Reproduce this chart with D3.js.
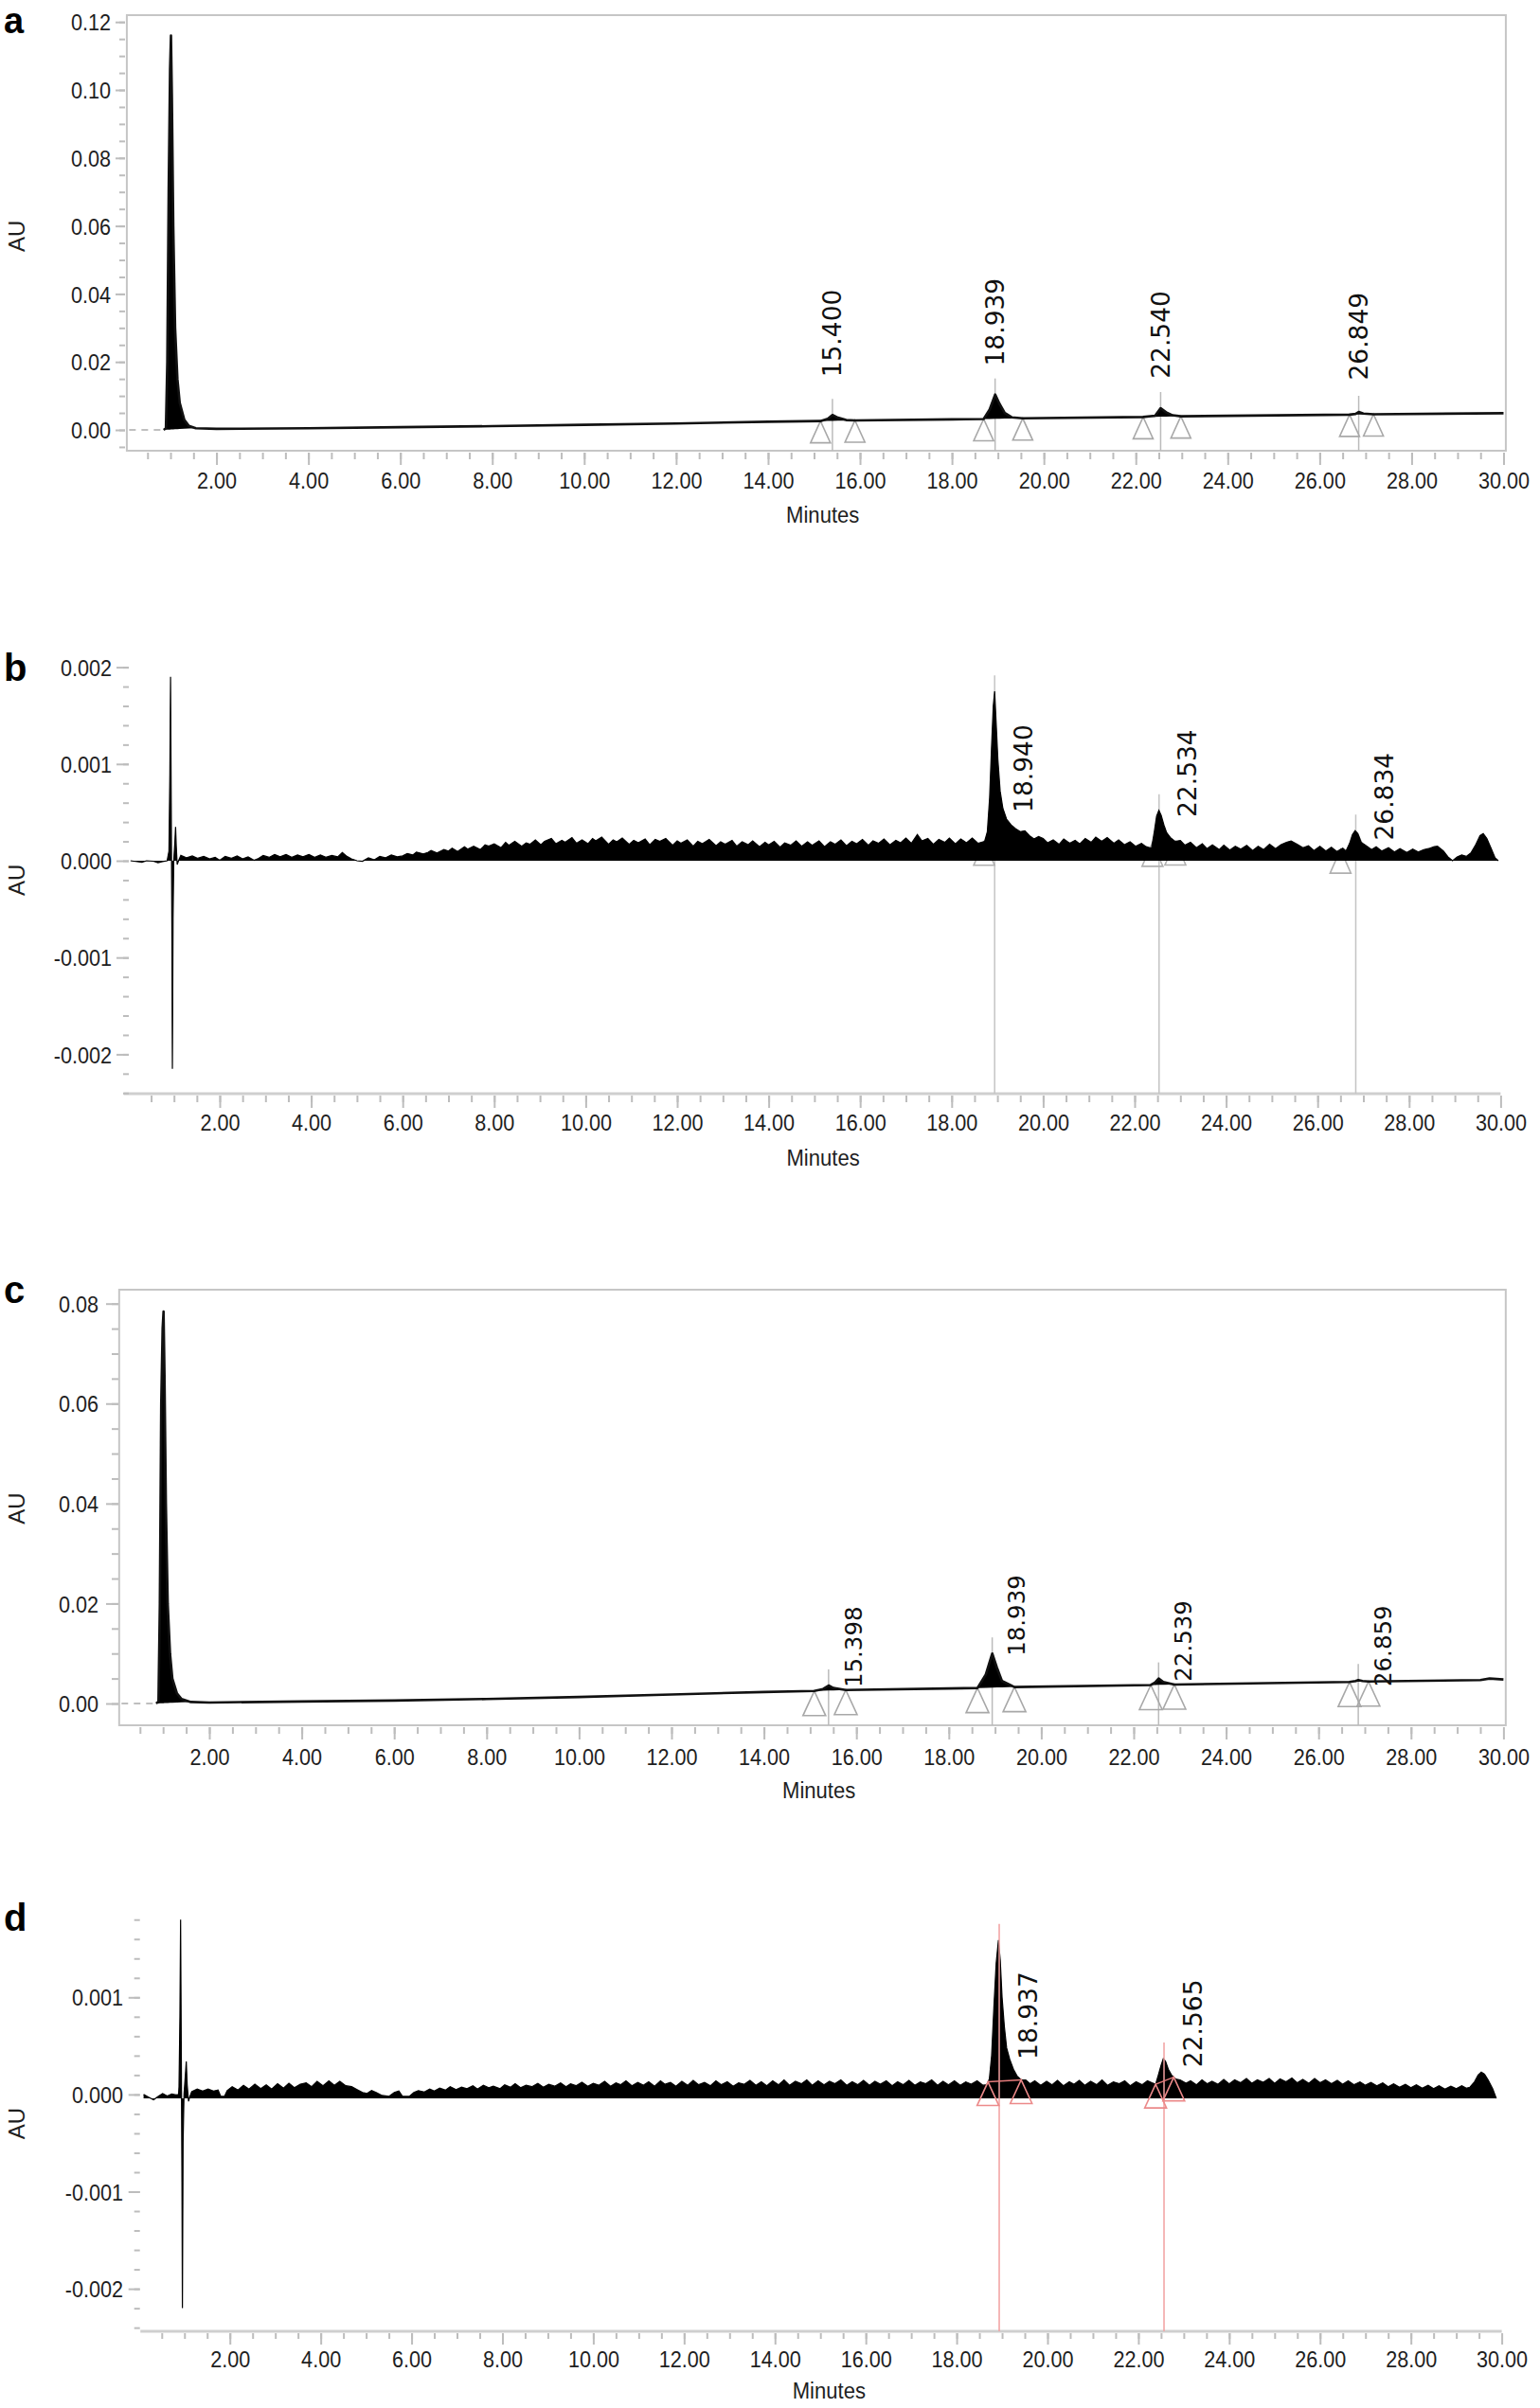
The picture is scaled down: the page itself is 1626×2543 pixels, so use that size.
<!DOCTYPE html>
<html><head><meta charset="utf-8">
<script src="https://cdn.jsdelivr.net/npm/d3@7"></script>
<style>body{margin:0;background:#fff}svg{display:block}</style>
</head><body>
<svg id="chart" width="1626" height="2543"></svg>
<script>
// ---------------- DATA ----------------
const xMajorTicks = [2,4,6,8,10,12,14,16,18,20,22,24,26,28,30];
const aYTicks = [0,0.02,0.04,0.06,0.08,0.10,0.12];
const bYTicks = [-0.002,-0.001,0,0.001,0.002];
const cYTicks = [0,0.02,0.04,0.06,0.08];
const dYTicks = [-0.002,-0.001,0,0.001];

// panel a trace [minutes, AU]
const aTrace = [[0.10,0],[0.85,0],[0.90,0.0005],[0.93,0.02],[0.96,0.07],[0.99,0.106],[1.01,0.116],[1.03,0.098],[1.06,0.06],[1.10,0.03],[1.15,0.015],[1.20,0.008],[1.30,0.003],[1.40,0.0012],[1.55,0.0005],[2.0,0.0003],[4.0,0.0005],[6.0,0.0008],[8.0,0.0011],[10.0,0.0015],[12.0,0.0019],[14.0,0.0024],[15.14,0.0026],[15.30,0.0033],[15.40,0.0044],[15.52,0.0036],[15.70,0.0029],[15.89,0.0028],[18.0,0.0031],[18.69,0.0032],[18.82,0.0060],[18.94,0.0104],[19.03,0.0078],[19.15,0.0050],[19.30,0.0037],[19.54,0.0034],[22.16,0.0038],[22.42,0.0042],[22.54,0.0064],[22.66,0.0052],[22.80,0.0043],[22.98,0.0040],[26.65,0.0045],[26.78,0.0047],[26.85,0.0053],[26.95,0.0048],[27.17,0.0046],[30.0,0.0049]];
const aPeakRT = [15.400,18.939,22.540,26.849];
const aPeakText = ["15.400","18.939","22.540","26.849"];
const aLabelLevel = [0.0155,0.0188,0.0151,0.0146];
const aFillWindows = [[0.85,1.55],[15.14,15.89],[18.69,19.54],[22.16,22.98],[26.65,27.17]];
const aMarkTimes = [15.14,15.89,18.69,19.54,22.16,22.98,26.65,27.17];

// panel b trace [minutes, micro-AU]
const bTrace = [[0.05,0],[0.20,-10],[0.30,-15],[0.40,0],[0.55,-5],[0.65,-20],[0.75,-8],[0.85,0],[0.89,100],[0.91,900],[0.925,1900],[0.94,600],[0.955,-800],[0.965,-2150],[0.98,-600],[0.995,0],[1.02,200],[1.035,350],[1.05,150],[1.07,-40],[1.10,0],
[1.15,55],[1.28,30],[1.40,50],[1.52,25],[1.65,45],[1.78,20],[1.90,35],[2.00,5],[2.12,45],[2.25,25],[2.38,50],[2.50,20],[2.62,40],[2.75,5],[2.85,25],[2.95,55],[3.08,35],[3.20,65],[3.32,40],[3.45,65],[3.58,35],[3.70,60],[3.82,40],[3.95,65],[4.08,35],[4.20,60],[4.32,35],[4.45,55],[4.58,40],[4.68,85],[4.78,45],[4.88,20],[5.00,0],[5.12,-5],[5.25,30],[5.38,10],[5.50,45],[5.62,30],[5.75,60],[5.88,40],
[6.00,50],[6.10,75],[6.22,60],[6.30,90],[6.45,70],[6.55,85],[6.62,105],[6.75,80],[6.90,115],[7.00,100],[7.08,130],[7.20,95],[7.35,145],[7.42,120],[7.55,150],[7.70,115],[7.80,165],[7.88,150],[8.00,175],[8.15,135],[8.25,190],[8.32,160],[8.45,200],[8.60,150],[8.70,185],[8.78,170],[8.90,215],[9.02,165],[9.10,200],[9.25,230],[9.35,175],[9.48,210],[9.55,190],[9.70,240],[9.80,180],[9.92,215],
[10.05,175],[10.15,230],[10.22,205],[10.35,245],[10.50,170],[10.60,215],[10.68,195],[10.80,235],[10.95,170],[11.05,210],[11.15,185],[11.30,225],[11.40,165],[11.52,220],[11.62,200],[11.75,230],[11.90,160],[12.00,205],[12.08,180],[12.22,215],[12.35,150],[12.45,200],[12.55,175],[12.70,220],[12.85,155],[12.95,195],[13.05,170],[13.20,210],[13.30,150],[13.42,195],[13.55,165],[13.65,205],[13.80,145],[13.92,190],
[14.00,165],[14.12,200],[14.25,140],[14.35,185],[14.48,160],[14.60,205],[14.72,150],[14.85,195],[14.95,160],[15.10,205],[15.22,145],[15.35,195],[15.45,170],[15.58,215],[15.70,155],[15.82,200],[15.92,175],[16.05,220],[16.18,160],[16.28,205],[16.40,180],[16.52,225],[16.65,165],[16.78,210],[16.88,185],[17.00,235],[17.12,180],[17.25,270],[17.35,205],[17.48,230],[17.60,170],[17.72,220],[17.85,190],[17.95,235],
[18.08,175],[18.20,225],[18.32,185],[18.45,235],[18.58,180],[18.72,200],[18.78,300],[18.83,650],[18.87,1150],[18.91,1600],[18.94,1750],[18.97,1450],[19.01,1050],[19.06,720],[19.12,540],[19.20,430],[19.30,370],[19.40,330],[19.50,300],[19.60,310],[19.70,260],[19.80,225],[19.90,250],
[20.00,230],[20.10,185],[20.22,215],[20.35,170],[20.45,225],[20.58,180],[20.70,210],[20.80,175],[20.92,230],[21.05,190],[21.15,245],[21.28,200],[21.40,240],[21.55,180],[21.65,215],[21.78,165],[21.90,195],[22.02,150],[22.15,180],[22.25,145],[22.37,130],[22.43,300],[22.48,460],[22.53,520],[22.58,470],[22.64,370],[22.70,290],[22.78,240],[22.88,200],
[23.00,210],[23.10,160],[23.22,190],[23.35,135],[23.48,175],[23.58,125],[23.70,165],[23.85,115],[23.95,160],[24.08,110],[24.20,150],[24.32,120],[24.45,160],[24.58,105],[24.70,150],[24.82,115],[24.95,170],[25.08,125],[25.20,165],[25.32,190],[25.42,205],[25.55,170],[25.68,135],[25.80,155],[25.92,105],[26.05,150],[26.18,100],[26.30,140],[26.42,95],[26.55,130],[26.62,100],
[26.70,180],[26.76,270],[26.82,310],[26.88,280],[26.95,190],[27.05,160],[27.18,115],[27.28,145],[27.40,100],[27.55,135],[27.68,90],[27.80,125],[27.95,85],[28.08,120],[28.20,90],[28.32,115],[28.45,130],[28.55,145],[28.62,150],[28.75,100],[28.85,40],[28.95,0],[29.05,40],[29.15,60],[29.25,45],[29.35,80],[29.45,160],[29.55,260],[29.62,280],[29.70,230],[29.80,120],[29.88,30],[29.95,0]];
const bPeakRT = [18.940,22.534,26.834];
const bPeakText = ["18.940","22.534","26.834"];
const bLabelLevel = [0.00050,0.00045,0.00021];
const bMarkTimes = [18.71,22.39,22.89,26.50,26.90];

// panel c trace [minutes, AU]
const cTrace = [[0.10,0],[0.85,0],[0.90,0.0004],[0.93,0.02],[0.96,0.06],[0.99,0.075],[1.01,0.0784],[1.03,0.066],[1.06,0.04],[1.10,0.02],[1.15,0.01],[1.20,0.005],[1.30,0.002],[1.40,0.0009],[1.60,0.0003],[2.0,0.0002],[4.0,0.0004],[6.0,0.0006],[8.0,0.0009],[10.0,0.0013],[12.0,0.0018],[14.0,0.0023],[15.09,0.0025],[15.28,0.0029],[15.40,0.0036],[15.50,0.0031],[15.77,0.0027],[18.0,0.0030],[18.62,0.0031],[18.80,0.0058],[18.94,0.0100],[19.04,0.0072],[19.15,0.0045],[19.42,0.0033],[22.37,0.0037],[22.46,0.0042],[22.54,0.0050],[22.64,0.0043],[22.88,0.0038],[26.67,0.0043],[26.80,0.0045],[26.86,0.0047],[26.95,0.0045],[27.08,0.0044],[29.5,0.0047],[29.7,0.0050],[29.85,0.0049],[30.0,0.0048]];
const cPeakRT = [15.398,18.939,22.539,26.859];
const cPeakText = ["15.398","18.939","22.539","26.859"];
const cLabelLevel = [0.0032,0.0095,0.0044,0.0034];
const cFillWindows = [[0.85,1.60],[15.09,15.77],[18.62,19.42],[22.37,22.88],[26.67,27.08]];
const cMarkTimes = [15.09,15.77,18.62,19.42,22.37,22.88,26.67,27.08];

// panel d trace [minutes, micro-AU]
const dTrace = [[0.10,0],[0.22,-30],[0.32,-55],[0.42,-20],[0.52,10],[0.62,-15],[0.72,5],[0.82,-5],[0.87,0],[0.88,80],[0.90,800],[0.915,1800],[0.93,500],[0.945,-900],[0.955,-2200],[0.97,-500],[0.99,0],[1.02,200],[1.04,340],[1.06,100],[1.09,-70],[1.12,-20],
[1.16,30],[1.28,55],[1.40,35],[1.52,55],[1.64,35],[1.74,45],[1.80,-20],[1.88,-20],[1.94,40],[2.05,80],[2.18,45],[2.30,95],[2.42,55],[2.55,105],[2.68,60],[2.80,100],[2.92,55],[3.05,110],[3.18,65],[3.30,115],[3.42,70],[3.55,105],[3.68,120],[3.80,80],[3.92,135],[4.05,90],[4.18,140],[4.30,95],[4.42,135],[4.55,90],[4.68,80],[4.80,50],[4.92,20],[5.02,10],[5.12,40],[5.22,20],[5.35,-10],[5.50,-20],[5.62,20],[5.72,35],[5.80,-20],[5.95,-20],
[6.05,20],[6.15,40],[6.28,25],[6.40,55],[6.50,35],[6.62,65],[6.75,45],[6.85,80],[6.98,50],[7.10,75],[7.22,60],[7.35,90],[7.45,55],[7.58,95],[7.70,70],[7.80,85],[7.95,60],[8.05,100],[8.18,75],[8.28,110],[8.40,70],[8.52,95],[8.65,80],[8.78,115],[8.90,75],[9.02,105],[9.15,85],[9.28,120],[9.40,80],[9.50,110],[9.62,90],[9.75,125],[9.88,85],
[10.00,115],[10.12,95],[10.25,135],[10.38,85],[10.50,120],[10.60,100],[10.72,140],[10.85,90],[10.98,125],[11.10,95],[11.22,130],[11.35,85],[11.48,140],[11.58,105],[11.70,125],[11.82,85],[11.95,135],[12.08,95],[12.20,145],[12.32,100],[12.45,125],[12.58,90],[12.70,140],[12.82,100],[12.95,130],[13.08,85],[13.20,120],[13.32,105],[13.45,145],[13.58,95],[13.70,130],[13.82,90],[13.95,140],
[14.08,100],[14.20,150],[14.32,95],[14.45,135],[14.58,110],[14.70,150],[14.82,95],[14.95,140],[15.08,100],[15.20,135],[15.32,110],[15.45,150],[15.58,95],[15.70,130],[15.82,100],[15.95,145],[16.08,95],[16.20,135],[16.32,105],[16.45,140],[16.58,90],[16.70,130],[16.82,100],[16.95,145],[17.08,95],[17.20,130],[17.32,110],[17.45,150],[17.58,95],[17.70,135],[17.82,100],[17.95,140],
[18.08,95],[18.20,130],[18.32,105],[18.45,140],[18.58,95],[18.66,100],[18.72,160],[18.77,400],[18.82,900],[18.87,1350],[18.92,1590],[18.96,1380],[19.00,1000],[19.05,700],[19.10,480],[19.17,360],[19.25,260],[19.33,190],[19.42,150],[19.52,150],[19.62,110],[19.72,140],[19.85,95],[19.98,135],
[20.10,100],[20.22,145],[20.35,90],[20.48,130],[20.58,105],[20.70,145],[20.82,95],[20.95,135],[21.08,100],[21.20,150],[21.32,95],[21.45,130],[21.58,110],[21.70,140],[21.82,90],[21.95,130],[22.08,100],[22.20,140],[22.30,120],[22.38,105],[22.44,200],[22.50,300],[22.55,370],[22.60,340],[22.66,260],[22.73,200],[22.82,160],[22.92,150],
[23.05,115],[23.15,140],[23.28,100],[23.40,150],[23.52,110],[23.62,135],[23.75,105],[23.88,155],[24.00,110],[24.12,150],[24.25,120],[24.38,165],[24.50,115],[24.62,150],[24.75,125],[24.88,165],[25.00,115],[25.12,160],[25.25,130],[25.38,170],[25.50,120],[25.62,155],[25.75,115],[25.88,165],[26.00,120],[26.12,150],[26.25,110],[26.38,145],[26.50,105],[26.62,140],[26.75,100],[26.88,130],
[27.00,95],[27.12,125],[27.25,90],[27.38,120],[27.50,80],[27.62,110],[27.75,75],[27.88,105],[28.00,70],[28.12,100],[28.25,65],[28.38,95],[28.50,60],[28.62,90],[28.75,55],[28.88,85],[29.00,60],[29.12,90],[29.22,65],[29.30,75],[29.40,130],[29.48,200],[29.55,230],[29.62,210],[29.70,150],[29.80,60],[29.88,-40]];
const dPeakRT = [18.937,22.565];
const dPeakText = ["18.937","22.565"];
const dLabelLevel = [0.00036,0.00028];
const dPeakBounds = [[18.69,19.42],[22.38,22.78]];

// ---------------- RENDER ----------------
const svg = d3.select("#chart");
svg.append("rect").attr("width",1626).attr("height",2543).attr("fill","#fff");
const TICKC = "#bdbdbd", TXT = "#1e1e1e";
const SANS = "'Liberation Sans', Arial, Helvetica, sans-serif";
const PEAKF = "'DejaVu Sans', Verdana, sans-serif";
const fmt2 = d => d.toFixed(2), fmt3 = d => d.toFixed(3);
const xMinorTicks = d3.range(1, 60).map(i => i / 2);
const toAU = arr => arr.map(([t, v]) => [t, v * 1e-6]);

function valueAt(trace, t) {
  const i = d3.bisector(d => d[0]).left(trace, t);
  if (i <= 0) return trace[0][1];
  if (i >= trace.length) return trace[trace.length - 1][1];
  const [t0, v0] = trace[i - 1], [t1, v1] = trace[i];
  return d3.scaleLinear().domain([t0, t1]).range([v0, v1])(t);
}
function apexNear(trace, t) {
  return d3.max(trace.filter(d => Math.abs(d[0] - t) < 0.12), d => d[1]);
}

function drawXAxis(g, x, cfg) {
  const base = g.append("g").attr("transform", `translate(0,${cfg.axisY})`);
  base.append("g").call(d3.axisBottom(x).tickValues(xMinorTicks).tickSize(cfg.minor).tickFormat(""))
    .call(s => s.select(".domain").remove());
  const maj = base.append("g").call(d3.axisBottom(x).tickValues(xMajorTicks).tickSize(cfg.major).tickFormat(fmt2))
    .call(s => s.select(".domain").remove());
  base.selectAll("line").attr("stroke", TICKC).attr("stroke-width", 2);
  maj.attr("font-family", SANS).attr("font-size", 24);
  maj.selectAll("text").attr("fill", TXT).attr("y", cfg.labelY - cfg.axisY).attr("dy", "0.36em")
    .attr("transform", "scale(0.9,1)");
}
function drawYAxis(g, y, ticks, minor, fmt, cfg) {
  const base = g.append("g").attr("transform", `translate(${cfg.axisX},0)`);
  base.append("g").call(d3.axisLeft(y).tickValues(minor).tickSize(cfg.minor).tickFormat(""))
    .call(s => s.select(".domain").remove());
  const maj = base.append("g").call(d3.axisLeft(y).tickValues(ticks).tickSize(cfg.major).tickFormat(fmt))
    .call(s => s.select(".domain").remove());
  base.selectAll("line").attr("stroke", TICKC).attr("stroke-width", 2);
  maj.attr("font-family", SANS).attr("font-size", 24);
  maj.selectAll("text").attr("fill", TXT).attr("x", (cfg.labelRight - cfg.axisX) / 0.9).attr("dy", "0.36em")
    .attr("transform", "scale(0.9,1)");
}
function common(g, x, y, cfg) {
  g.append("text").attr("x", 4).attr("y", cfg.letterY).attr("font-family", SANS).attr("font-weight", "bold")
    .attr("font-size", cfg.letterSize || 40).attr("fill", "#000").text(cfg.letter);
  g.append("text").attr("transform", `translate(${cfg.auX},${y(cfg.auVal)}) rotate(-90)`)
    .attr("text-anchor", "middle").attr("dy", "0.36em").attr("font-family", SANS).attr("font-size", 24)
    .attr("fill", TXT).text("AU");
  g.append("text").attr("x", x(15.19)).attr("y", cfg.minutesY).attr("dy", "0.36em").attr("text-anchor", "middle")
    .attr("font-family", SANS).attr("font-size", 24).attr("fill", TXT)
    .attr("transform", `translate(${x(15.19) * 0.08},0) scale(0.92,1)`).text("Minutes");
}
function peakLabels(g, x, y, rts, texts, levels, dx, fs) {
  rts.forEach((rt, i) => {
    g.append("text").attr("transform", `translate(${x(rt) + dx},${y(levels[i])}) rotate(-90)`)
      .attr("text-anchor", "start").attr("dy", "0.36em").attr("font-family", PEAKF).attr("font-size", fs)
      .attr("fill", "#111").text(texts[i]);
  });
}
function triangles(g, x, y, trace, times, w, h, color) {
  times.forEach(t => {
    const ax = x(t), ay = y(valueAt(trace, t));
    g.append("path").attr("d", d3.line()([[ax, ay], [ax - w / 2, ay + h], [ax + w / 2, ay + h]]) + "Z")
      .attr("fill", "none").attr("stroke", color).attr("stroke-width", 1.6);
  });
}
function lineTrace(g, x, y, trace, windows) {
  windows.forEach(([ts, te]) => {
    const pts = trace.filter(d => d[0] >= ts - 1e-9 && d[0] <= te + 1e-9);
    const bl = d3.scaleLinear().domain([ts, te]).range([valueAt(trace, ts), valueAt(trace, te)]);
    g.append("path").datum(pts)
      .attr("d", d3.area().x(d => x(d[0])).y0(d => y(bl(d[0]))).y1(d => y(d[1])))
      .attr("fill", "#000");
  });
  g.append("path").datum(trace.filter(d => d[0] <= 0.85))
    .attr("d", d3.line().x(d => x(d[0])).y(d => y(d[1])))
    .attr("fill", "none").attr("stroke", "#aaa").attr("stroke-width", 1.5).attr("stroke-dasharray", "7,6");
  g.append("path").datum(trace.filter(d => d[0] >= 0.85))
    .attr("d", d3.line().x(d => x(d[0])).y(d => y(d[1])))
    .attr("fill", "none").attr("stroke", "#111").attr("stroke-width", 2.6).attr("stroke-linejoin", "round");
}
function areaTrace(g, x, y, trace, base) {
  g.append("path").datum(trace)
    .attr("d", d3.area().x(d => x(d[0])).y0(y(base)).y1(d => y(d[1])))
    .attr("fill", "#000");
  g.append("path").datum(trace)
    .attr("d", d3.line().x(d => x(d[0])).y(d => y(d[1])))
    .attr("fill", "none").attr("stroke", "#000").attr("stroke-width", 1.2);
}

// ---------- Panel a ----------
{
  const g = svg.append("g");
  const x = d3.scaleLinear().domain([0, 30]).range([131.5, 1587.5]);
  const y = d3.scaleLinear().domain([0, 0.12]).range([454, 23.2]);
  const top = 16, bottom = 476;
  g.append("rect").attr("x", x(0.05)).attr("y", top).attr("width", x(30.05) - x(0.05)).attr("height", bottom - top)
    .attr("fill", "none").attr("stroke", "#c6c6c6").attr("stroke-width", 2);
  drawXAxis(g, x, {axisY: 478, minor: 7, major: 13, labelY: 507});
  drawYAxis(g, y, aYTicks, d3.range(-1, 25).map(i => i * 0.005), fmt2, {axisX: 132, minor: 6, major: 10, labelRight: 117});
  common(g, x, y, {letter: "a", letterY: 35, letterSize: 38, auX: 17, auVal: 0.057, minutesY: 543});
  aPeakRT.forEach(rt => {
    g.append("line").attr("x1", x(rt)).attr("x2", x(rt)).attr("y1", y(apexNear(aTrace, rt)) - 17).attr("y2", bottom)
      .attr("stroke", "#bbb").attr("stroke-width", 1.5);
  });
  triangles(g, x, y, aTrace, aMarkTimes, 21, 23, "#a8a8a8");
  lineTrace(g, x, y, aTrace, aFillWindows);
  peakLabels(g, x, y, aPeakRT, aPeakText, aLabelLevel, 0, 26.5);
}

// ---------- Panel b ----------
{
  const g = svg.append("g");
  const trace = toAU(bTrace);
  const x = d3.scaleLinear().domain([0, 30]).range([135.4, 1584.4]);
  const y = d3.scaleLinear().domain([0, 0.002]).range([909, 704.6]);
  const axisLineY = 1155;
  g.append("line").attr("x1", x(-0.1)).attr("x2", x(30)).attr("y1", axisLineY).attr("y2", axisLineY)
    .attr("stroke", "#cfcfcf").attr("stroke-width", 3);
  drawXAxis(g, x, {axisY: 1157, minor: 7, major: 13, labelY: 1185});
  drawYAxis(g, y, bYTicks, d3.range(-12, 11).map(i => i * 0.0002), fmt3, {axisX: 136, minor: 6, major: 13, labelRight: 118});
  common(g, x, y, {letter: "b", letterY: 719, auX: 17, auVal: -0.0002, minutesY: 1222});
  bPeakRT.forEach(rt => {
    g.append("line").attr("x1", x(rt)).attr("x2", x(rt)).attr("y1", y(apexNear(trace, rt)) - 17).attr("y2", axisLineY)
      .attr("stroke", "#c4c4c4").attr("stroke-width", 1.5);
  });
  triangles(g, x, y, trace, bMarkTimes, 22, 25, "#b0b0b0");
  areaTrace(g, x, y, trace, 0);
  peakLabels(g, x, y, bPeakRT, bPeakText, bLabelLevel, 30, 26.5);
}

// ---------- Panel c ----------
{
  const g = svg.append("g");
  const x = d3.scaleLinear().domain([0, 30]).range([123.4, 1587.4]);
  const y = d3.scaleLinear().domain([0, 0.08]).range([1799, 1376.7]);
  const top = 1362, bottom = 1822;
  g.append("rect").attr("x", x(0.05)).attr("y", top).attr("width", x(30.05) - x(0.05)).attr("height", bottom - top)
    .attr("fill", "none").attr("stroke", "#c6c6c6").attr("stroke-width", 2);
  drawXAxis(g, x, {axisY: 1824, minor: 7, major: 13, labelY: 1855});
  drawYAxis(g, y, cYTicks, d3.range(0, 17).map(i => i * 0.005), fmt2, {axisX: 125, minor: 7, major: 13, labelRight: 104});
  common(g, x, y, {letter: "c", letterY: 1376, auX: 17, auVal: 0.039, minutesY: 1890});
  cPeakRT.forEach(rt => {
    g.append("line").attr("x1", x(rt)).attr("x2", x(rt)).attr("y1", y(apexNear(cTrace, rt)) - 17).attr("y2", bottom)
      .attr("stroke", "#bbb").attr("stroke-width", 1.5);
  });
  triangles(g, x, y, cTrace, cMarkTimes, 24, 26, "#a8a8a8");
  lineTrace(g, x, y, cTrace, cFillWindows);
  peakLabels(g, x, y, cPeakRT, cPeakText, cLabelLevel, 26, 24.5);
}

// ---------- Panel d ----------
{
  const g = svg.append("g");
  const trace = toAU(dTrace);
  const x = d3.scaleLinear().domain([0, 30]).range([146.8, 1585.6]);
  const y = d3.scaleLinear().domain([0, 0.001]).range([2211.9, 2109.3]);
  const axisLineY = 2462;
  g.append("line").attr("x1", x(0.03)).attr("x2", x(30)).attr("y1", axisLineY).attr("y2", axisLineY)
    .attr("stroke", "#cfcfcf").attr("stroke-width", 3);
  drawXAxis(g, x, {axisY: 2464, minor: 6, major: 12, labelY: 2491});
  drawYAxis(g, y, dYTicks, d3.range(-12, 10).map(i => i * 0.0002), fmt3, {axisX: 147.7, minor: 6, major: 12, labelRight: 130});
  common(g, x, y, {letter: "d", letterY: 2039, auX: 17, auVal: -0.0003, minutesY: 2524});
  areaTrace(g, x, y, trace, -0.00004);
  const RED = "#f2a0a0";
  dPeakRT.forEach(rt => {
    g.append("line").attr("x1", x(rt)).attr("x2", x(rt)).attr("y1", y(apexNear(trace, rt)) - 17).attr("y2", axisLineY)
      .attr("stroke", RED).attr("stroke-width", 1.5);
  });
  dPeakBounds.forEach(([ts, te]) => {
    g.append("line").attr("x1", x(ts)).attr("x2", x(te))
      .attr("y1", y(valueAt(trace, ts))).attr("y2", y(valueAt(trace, te)))
      .attr("stroke", "#e57c7c").attr("stroke-width", 1.5);
  });
  triangles(g, x, y, trace, dPeakBounds.flat(), 23, 25, "#ec8a8a");
  peakLabels(g, x, y, dPeakRT, dPeakText, dLabelLevel, 30, 26.5);
}
</script>
</body></html>
